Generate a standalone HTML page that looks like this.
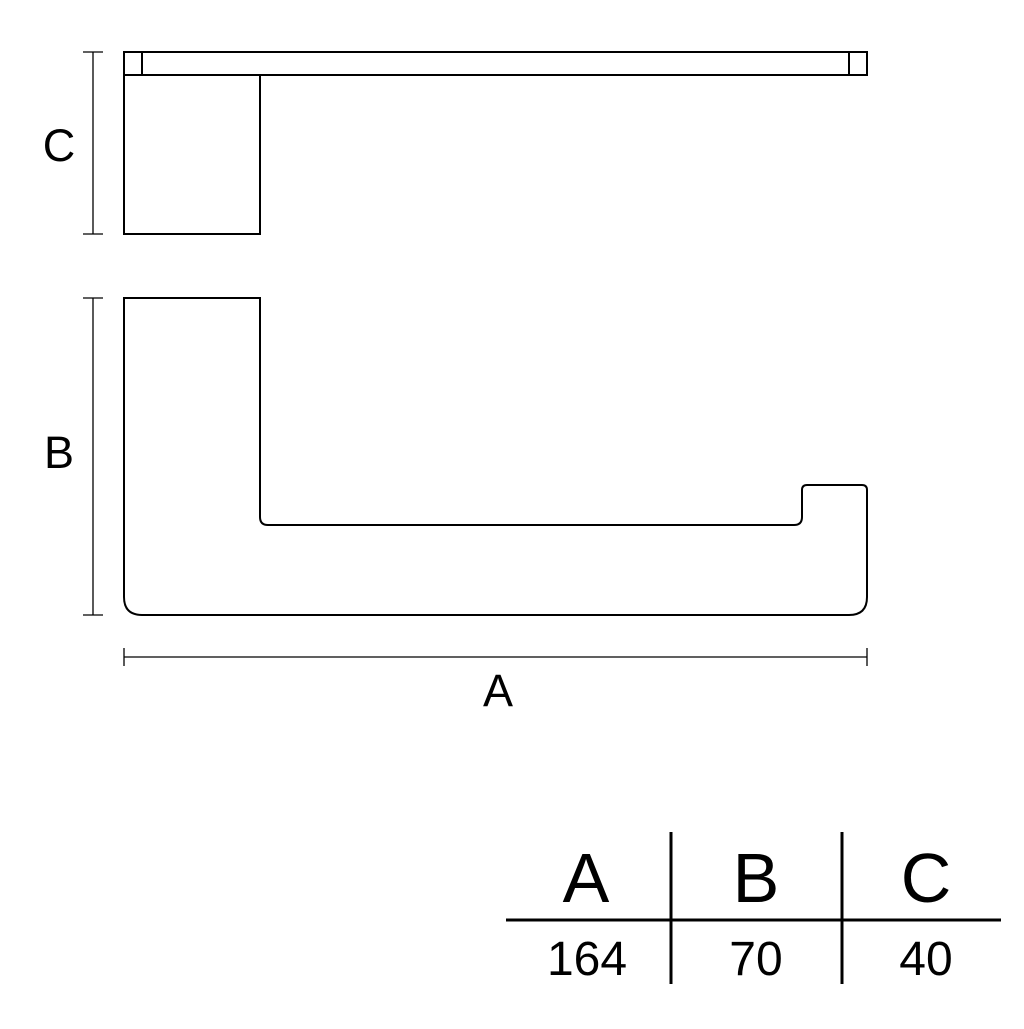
<!DOCTYPE html>
<html><head><style>body{margin:0;background:#fff}</style></head><body>
<svg width="1024" height="1024" xmlns="http://www.w3.org/2000/svg" font-family="Liberation Sans, sans-serif">
<g fill="none" stroke="#000" stroke-width="2">
<rect x="124" y="52" width="743" height="23"/>
<line x1="142" y1="52" x2="142" y2="75"/>
<line x1="849" y1="52" x2="849" y2="75"/>
<polyline points="124,75 124,234 260,234 260,75"/>
<path d="M124,298 H260 V517 Q260,525 268,525 H794 Q802,525 802,517 V490 Q802,485 807,485 H862 Q867,485 867,490 V597 Q867,615 849,615 H142 Q124,615 124,597 Z"/>
</g>
<g stroke="#000" stroke-width="1.3">
<line x1="93" y1="52" x2="93" y2="234"/><line x1="83" y1="52" x2="103" y2="52"/><line x1="83" y1="234" x2="103" y2="234"/>
<line x1="93" y1="298" x2="93" y2="615"/><line x1="83" y1="298" x2="103" y2="298"/><line x1="83" y1="615" x2="103" y2="615"/>
<line x1="124" y1="657" x2="867" y2="657"/><line x1="124" y1="648" x2="124" y2="666"/><line x1="867" y1="648" x2="867" y2="666"/>
</g>
<g font-size="45" text-anchor="middle">
<text x="59" y="161">C</text><text x="59" y="468">B</text><text x="498" y="706">A</text>
</g>
<g stroke="#000" stroke-width="3">
<line x1="506" y1="920" x2="1001" y2="920"/>
<line x1="671" y1="832" x2="671" y2="984"/>
<line x1="842" y1="832" x2="842" y2="984"/>
</g>
<g font-size="70" text-anchor="middle">
<text x="586" y="902">A</text><text x="756" y="902">B</text><text x="926" y="902">C</text>
</g>
<g font-size="48" text-anchor="middle">
<text x="587" y="975">164</text><text x="756" y="975">70</text><text x="926" y="975">40</text>
</g>
</svg>
</body></html>
